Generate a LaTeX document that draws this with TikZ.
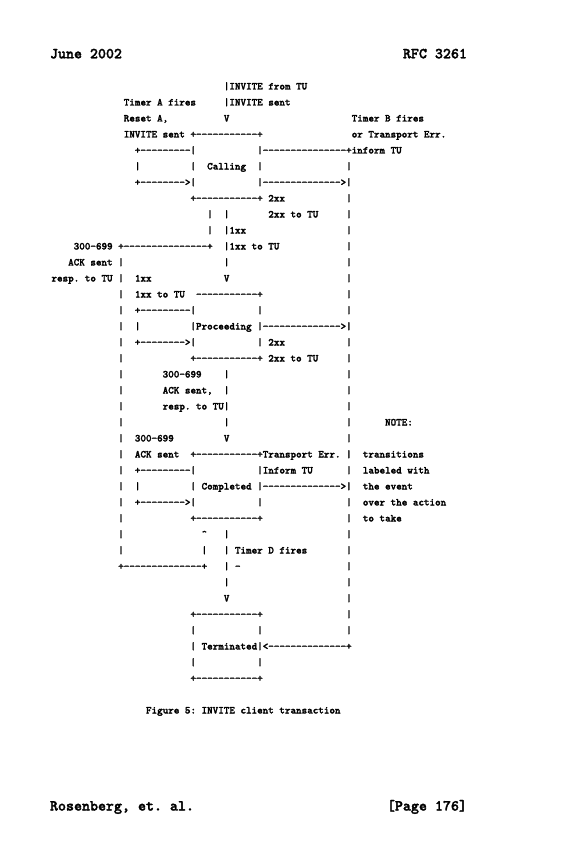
\documentclass[tikz,border=0pt]{standalone}
\font\rfcbody="[lmmonolt10-bold]:embolden=2" at 7.94pt
\font\rfchead="[lmmonolt10-bold]:embolden=2" at 11.43pt
\tikzset{
  txt/.style={anchor=base west, inner sep=0pt, outer sep=0pt,
    font=\rfcbody\frenchspacing},
  hdr/.style={inner sep=0pt, outer sep=0pt,
    font=\rfchead\frenchspacing},
}
\newcommand\Tx[4]{\node[txt] (#1) at (#2,#3) {#4};}
\begin{document}
\begin{tikzpicture}[x=4.17pt,y=-12pt]
\path[use as bounding box, fill=white] (-38.625pt,67.125pt) rectangle (388.125pt,-574.875pt);
% header and footer
\node[hdr, anchor=base west] (date) at (-1.125pt,23.4pt) {June 2002};
\node[hdr, anchor=base east] (rfc) at (311.6pt,23.4pt) {RFC 3261};
\node[hdr, anchor=base west] (authors) at (-1.125pt,-540.75pt) {Rosenberg, et. al.};
\node[hdr, anchor=base east] (page) at (311.6pt,-540.75pt) {[Page 176]};
% line 1
\Tx{a1}{31}{0}{|INVITE from TU}
% line 2
\Tx{b1}{13}{1}{Timer A fires}
\Tx{b2}{31}{1}{|INVITE sent}
% line 3
\Tx{c1}{13}{2}{Reset A,}
\Tx{c2}{31}{2}{V}
\Tx{c3}{54}{2}{Timer B fires}
% line 4
\Tx{d1}{13}{3}{INVITE sent +-----------+}
\Tx{d2}{54}{3}{or Transport Err.}
% line 5
\Tx{e1}{15}{4}{+---------|}
\Tx{e2}{37}{4}{|---------------+inform TU}
% line 6
\Tx{f1}{15}{5}{|}
\Tx{f2}{25}{5}{|}
\Tx{calling}{28}{5}{Calling}
\Tx{f3}{37}{5}{|}
\Tx{f4}{53}{5}{|}
% line 7
\Tx{g1}{15}{6}{+-------->|}
\Tx{g2}{37}{6}{|-------------->|}
% line 8
\Tx{h1}{25}{7}{+-----------+ 2xx}
\Tx{h2}{53}{7}{|}
% line 9
\Tx{i1}{28}{8}{|}
\Tx{i2}{31}{8}{|}
\Tx{i3}{39}{8}{2xx to TU}
\Tx{i4}{53}{8}{|}
% line 10
\Tx{j1}{28}{9}{|}
\Tx{j2}{31}{9}{|1xx}
\Tx{j3}{53}{9}{|}
% line 11
\Tx{k1}{4}{10}{300-699 +---------------+}
\Tx{k2}{31}{10}{|1xx to TU}
\Tx{k3}{53}{10}{|}
% line 12
\Tx{l1}{3}{11}{ACK sent |}
\Tx{l2}{31}{11}{|}
\Tx{l3}{53}{11}{|}
% line 13
\Tx{m1}{0}{12}{resp. to TU |}
\Tx{m2}{15}{12}{1xx}
\Tx{m3}{31}{12}{V}
\Tx{m4}{53}{12}{|}
% line 14
\Tx{n1}{12}{13}{|}
\Tx{n2}{15}{13}{1xx to TU}
\Tx{n3}{26}{13}{-----------+}
\Tx{n4}{53}{13}{|}
% line 15
\Tx{o1}{12}{14}{|}
\Tx{o2}{15}{14}{+---------|}
\Tx{o3}{37}{14}{|}
\Tx{o4}{53}{14}{|}
% line 16
\Tx{p1}{12}{15}{|}
\Tx{p2}{15}{15}{|}
\Tx{proceeding}{25}{15}{|Proceeding |-------------->|}
% line 17
\Tx{q1}{12}{16}{|}
\Tx{q2}{15}{16}{+-------->|}
\Tx{q3}{37}{16}{| 2xx}
\Tx{q4}{53}{16}{|}
% line 18
\Tx{r1}{12}{17}{|}
\Tx{r2}{25}{17}{+-----------+ 2xx to TU}
\Tx{r3}{53}{17}{|}
% line 19
\Tx{s1}{12}{18}{|}
\Tx{s2}{20}{18}{300-699}
\Tx{s3}{31}{18}{|}
\Tx{s4}{53}{18}{|}
% line 20
\Tx{t1}{12}{19}{|}
\Tx{t2}{20}{19}{ACK sent,}
\Tx{t3}{31}{19}{|}
\Tx{t4}{53}{19}{|}
% line 21
\Tx{u1}{12}{20}{|}
\Tx{u2}{20}{20}{resp. to TU|}
\Tx{u3}{53}{20}{|}
% line 22
\Tx{v1}{12}{21}{|}
\Tx{v2}{31}{21}{|}
\Tx{v3}{53}{21}{|}
\Tx{note}{60}{21}{NOTE:}
% line 23
\Tx{w1}{12}{22}{|}
\Tx{w2}{15}{22}{300-699}
\Tx{w3}{31}{22}{V}
\Tx{w4}{53}{22}{|}
% line 24
\Tx{x1}{12}{23}{|}
\Tx{x2}{15}{23}{ACK sent}
\Tx{x3}{25}{23}{+-----------+Transport Err. |}
\Tx{x4}{56}{23}{transitions}
% line 25
\Tx{y1}{12}{24}{|}
\Tx{y2}{15}{24}{+---------|}
\Tx{y3}{37}{24}{|Inform TU}
\Tx{y4}{53}{24}{|}
\Tx{y5}{56}{24}{labeled with}
% line 26
\Tx{z1}{12}{25}{|}
\Tx{z2}{15}{25}{|}
\Tx{completed}{25}{25}{| Completed |-------------->|}
\Tx{z4}{56}{25}{the event}
% line 27
\Tx{aa1}{12}{26}{|}
\Tx{aa2}{15}{26}{+-------->|}
\Tx{aa3}{37}{26}{|}
\Tx{aa4}{53}{26}{|}
\Tx{aa5}{56}{26}{over the action}
% line 28
\Tx{bb1}{12}{27}{|}
\Tx{bb2}{25}{27}{+-----------+}
\Tx{bb3}{53}{27}{|}
\Tx{bb4}{56}{27}{to take}
% line 29
\Tx{cc1}{12}{28}{|}
\Tx{cc2}{27}{28}{\textasciicircum}
\Tx{cc3}{31}{28}{|}
\Tx{cc4}{53}{28}{|}
% line 30
\Tx{dd1}{12}{29}{|}
\Tx{dd2}{27}{29}{|}
\Tx{dd3}{31}{29}{| Timer D fires}
\Tx{dd4}{53}{29}{|}
% line 31
\Tx{ee1}{12}{30}{+--------------+}
\Tx{ee2}{31}{30}{| -}
\Tx{ee3}{53}{30}{|}
% line 32
\Tx{ff1}{31}{31}{|}
\Tx{ff2}{53}{31}{|}
% line 33
\Tx{gg1}{31}{32}{V}
\Tx{gg2}{53}{32}{|}
% line 34
\Tx{hh1}{25}{33}{+-----------+}
\Tx{hh2}{53}{33}{|}
% line 35
\Tx{ii1}{25}{34}{|}
\Tx{ii2}{37}{34}{|}
\Tx{ii3}{53}{34}{|}
% line 36
\Tx{terminated}{25}{35}{| Terminated|<--------------+}
% line 37
\Tx{kk1}{25}{36}{|}
\Tx{kk2}{37}{36}{|}
% line 38
\Tx{ll1}{25}{37}{+-----------+}
% caption
\Tx{caption}{17}{39}{Figure 5: INVITE client transaction}
\end{tikzpicture}
\end{document}
